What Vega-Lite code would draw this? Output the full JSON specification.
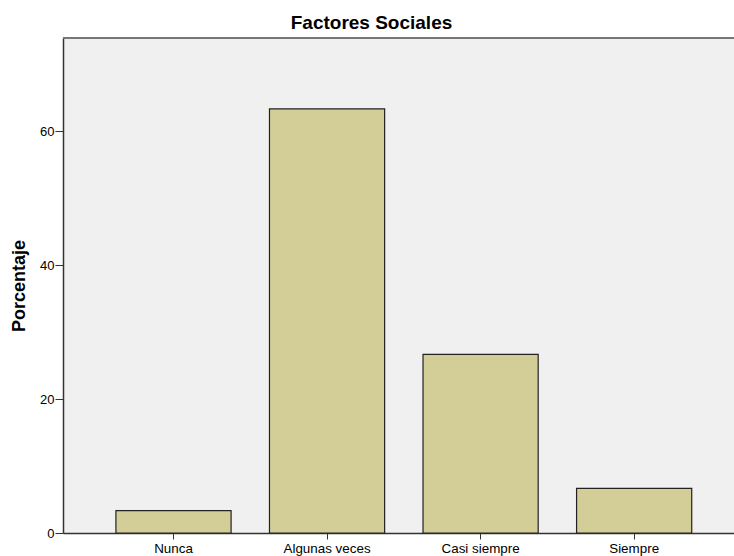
{
  "$schema": "https://vega.github.io/schema/vega-lite/v6.json",
  "width": 671,
  "height": 495,
  "autosize": {"type": "none"},
  "padding": {"left": 63, "top": 38, "right": 0, "bottom": 23},
  "background": "white",
  "title": {
    "text": "Factores Sociales",
    "font": "Liberation Sans",
    "fontSize": 19,
    "fontWeight": "bold",
    "color": "#000000",
    "anchor": "middle",
    "dx": -27,
    "offset": 4
  },
  "config": {
    "view": {"fill": "#F0F0F0", "stroke": null},
    "axis": {"grid": false, "labelFont": "Liberation Sans", "titleFont": "Liberation Sans", "labelColor": "#000000", "titleColor": "#000000", "domainColor": "#333333", "tickColor": "#333333"}
  },
  "data": {
    "values": [
      {"cat": "Nunca", "pct": 3.33},
      {"cat": "Algunas veces", "pct": 63.33},
      {"cat": "Casi siempre", "pct": 26.67},
      {"cat": "Siempre", "pct": 6.67}
    ]
  },
  "layer": [
    {
      "mark": {"type": "bar", "fill": "#D3CE97", "stroke": "#222222", "strokeWidth": 1.2},
      "encoding": {
        "x": {
          "field": "cat",
          "type": "nominal",
          "sort": null,
          "scale": {"paddingInner": 0.25, "paddingOuter": 0.31, "align": 0.556},
          "axis": {"title": null, "labelAngle": 0, "labelFontSize": 13.4, "tickSize": 6, "labelPadding": 2, "domainWidth": 1.5}
        },
        "y": {
          "field": "pct",
          "type": "quantitative",
          "scale": {"domain": [0, 73.9], "nice": false},
          "axis": {"title": "Porcentaje", "titleFontSize": 18, "titleFontWeight": "bold", "titlePadding": 11.5, "values": [0, 20, 40, 60], "labelFontSize": 13, "tickSize": 8, "labelPadding": 1, "domainWidth": 1.5}
        }
      }
    },
    {
      "mark": {"type": "rule", "stroke": "#777777", "strokeWidth": 2},
      "encoding": {"y": {"datum": 73.9}}
    }
  ]
}
